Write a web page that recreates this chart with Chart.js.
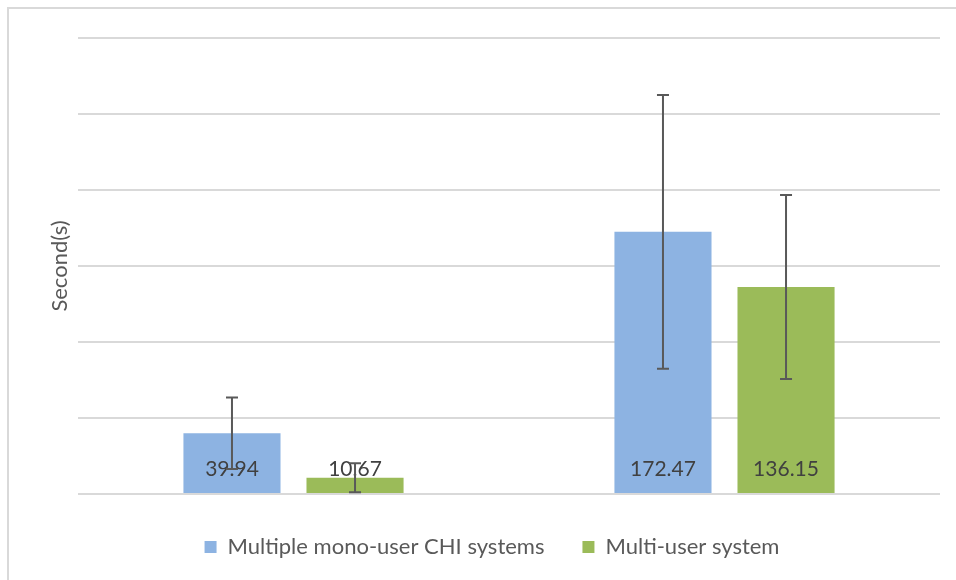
<!DOCTYPE html>
<html>
<head>
<meta charset="utf-8">
<script src="https://cdn.jsdelivr.net/npm/chart.js@4/dist/chart.umd.min.js"></script>
<style>
  html, body { margin: 0; padding: 0; background: #fff; }
  #wrap { position: relative; width: 956px; height: 580px; }
</style>
</head>
<body>
<div id="wrap"><canvas id="myChart" width="956" height="580"></canvas></div>
<script>
'use strict'

let categories = ['', ''];
let seriesNames = ['Multiple mono-user CHI systems', 'Multi-user system'];
let monoValues = [39.94, 172.47];
let multiValues = [10.67, 136.15];
let monoErrors = [23.5, 90];
let multiErrors = [9.5, 60.5];
let yTicks = [0, 50, 100, 150, 200, 250, 300];

let errors = [monoErrors, multiErrors];
let textColor = '#595959';
let fontName = 'Lato, "Open Sans", sans-serif';

// frame like the office chart border (top and left only)
let framePlugin = {
    id: 'frame',
    beforeDraw(chart) {
        let ctx = chart.ctx;
        ctx.save();
        ctx.fillStyle = '#fff';
        ctx.fillRect(0, 0, chart.width, chart.height);
        ctx.strokeStyle = '#d9d9d9';
        ctx.lineWidth = 2;
        ctx.beginPath();
        ctx.moveTo(8, chart.height);
        ctx.lineTo(8, 8);
        ctx.lineTo(chart.width, 8);
        ctx.stroke();
        ctx.restore();
    }
};

// error bars + value labels
let errorPlugin = {
    id: 'errorBars',
    afterDatasetsDraw(chart) {
        let ctx = chart.ctx;
        let y = chart.scales.y;
        ctx.save();
        // labels first, error bars drawn over them
        ctx.font = '21px ' + fontName;
        ctx.fillStyle = '#404040';
        ctx.textAlign = 'center';
        ctx.textBaseline = 'middle';
        chart.data.datasets.forEach(function (ds, i) {
            let meta = chart.getDatasetMeta(i);
            meta.data.forEach(function (bar, j) {
                ctx.fillText(ds.data[j].toFixed(2), bar.x, y.getPixelForValue(0) - 25);
            });
        });
        ctx.strokeStyle = '#595959';
        ctx.lineWidth = 2;
        chart.data.datasets.forEach(function (ds, i) {
            let meta = chart.getDatasetMeta(i);
            meta.data.forEach(function (bar, j) {
                let v = ds.data[j];
                let e = errors[i][j];
                let top = y.getPixelForValue(v + e);
                let bot = y.getPixelForValue(Math.max(0, v - e));
                ctx.beginPath();
                ctx.moveTo(bar.x, top);
                ctx.lineTo(bar.x, bot);
                ctx.moveTo(bar.x - 6, top);
                ctx.lineTo(bar.x + 6, top);
                ctx.moveTo(bar.x - 6, bot);
                ctx.lineTo(bar.x + 6, bot);
                ctx.stroke();
            });
        });
        ctx.restore();
    }
};

let ctx = document.getElementById('myChart').getContext('2d');
let myChart = new Chart(ctx, {
    type: 'bar',
    data: {
        labels: categories,
        datasets: [{
            label: seriesNames[0],
            data: monoValues,
            backgroundColor: '#8db3e2',
            borderWidth: 0
        }, {
            label: seriesNames[1],
            data: multiValues,
            backgroundColor: '#9bbb59',
            borderWidth: 0
        }]
    },
    options: {
        responsive: false,
        animation: false,
        categoryPercentage: 0.571,
        barPercentage: 0.789,
        layout: { padding: { left: 44, top: 38, right: 16, bottom: 12 } },
        plugins: {
            legend: {
                position: 'bottom',
                labels: {
                    boxWidth: 12,
                    boxHeight: 12,
                    padding: 38,
                    color: textColor,
                    font: { family: fontName, size: 22 }
                }
            },
            tooltip: { enabled: false }
        },
        scales: {
            x: {
                grid: { display: false },
                border: { display: false },
                ticks: { display: false },
                afterFit(scale) { scale.height = 4; }
            },
            y: {
                min: yTicks[0],
                max: yTicks[yTicks.length - 1],
                afterBuildTicks(scale) { scale.ticks = yTicks.map(v => ({ value: v })); },
                ticks: { display: false },
                grid: { color: '#d9d9d9', lineWidth: 2, drawTicks: false },
                border: { display: false },
                title: {
                    display: true,
                    text: 'Second(s)',
                    color: textColor,
                    padding: { top: 3, bottom: 0 },
                    font: { family: fontName, size: 22 }
                },
                afterFit(scale) { scale.width = 34; }
            }
        }
    },
    plugins: [framePlugin, errorPlugin]
});
</script>
</body>
</html>
